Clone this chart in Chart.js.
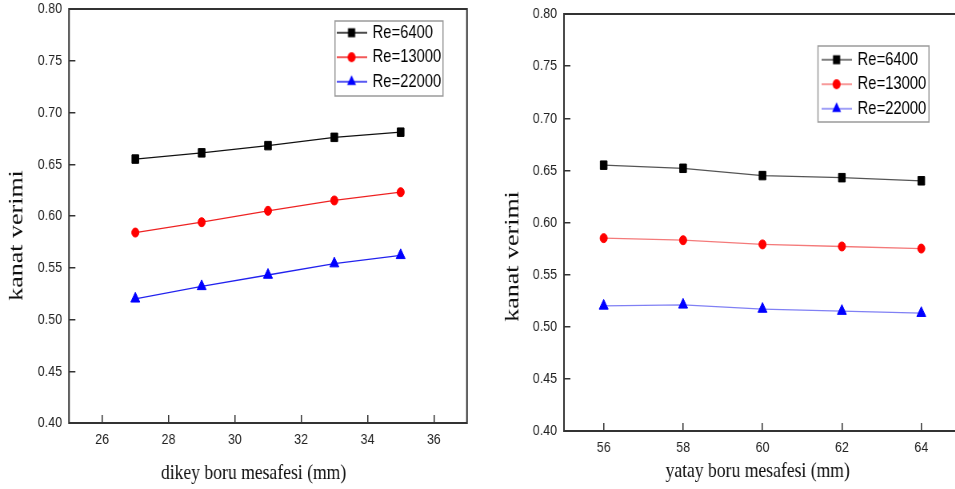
<!DOCTYPE html>
<html>
<head>
<meta charset="utf-8">
<script src="https://cdn.jsdelivr.net/npm/chart.js@4.4.1/dist/chart.umd.min.js"></script>
<style>
    html, body { margin: 0; padding: 0; background: #fff; overflow: hidden; width: 955px; height: 489px; }
    /* the source figure is squeezed sideways, so the canvases are too */
    canvas { position: absolute; top: 0; transform: scaleX(0.8); transform-origin: 0 0; }
    #chart-dikey { left: 0; }
    #chart-yatay { left: 480px; }
</style>
</head>
<body>
<canvas id="chart-dikey" width="600" height="489"></canvas>
<canvas id="chart-yatay" width="612" height="489"></canvas>
<script>
// Data
const seriesNames = ['Re=6400', 'Re=13000', 'Re=22000'];

const dikeyMesafe = [27, 29, 31, 33, 35];
const dikeyRe6400 = [0.655, 0.661, 0.668, 0.676, 0.681];
const dikeyRe13000 = [0.584, 0.594, 0.605, 0.615, 0.623];
const dikeyRe22000 = [0.520, 0.532, 0.543, 0.554, 0.562];

const yatayMesafe = [56, 58, 60, 62, 64];
const yatayRe6400 = [0.655, 0.652, 0.645, 0.643, 0.640];
const yatayRe13000 = [0.585, 0.583, 0.579, 0.577, 0.575];
const yatayRe22000 = [0.520, 0.521, 0.517, 0.515, 0.513];

const yTickValues = [0.40, 0.45, 0.50, 0.55, 0.60, 0.65, 0.70, 0.75, 0.80];
const dikeyTickValues = [26, 28, 30, 32, 34, 36];
const yatayTickValues = [56, 58, 60, 62, 64];

// Styles
const markerStyles = ['rect', 'circle', 'triangle'];
const markerRadius = [6, 4.5, 6.5];
const markerColors = ['#000000', '#ff0000', '#0000ff'];

const sansFont = '"Liberation Sans", Arial, sans-serif';
const serifFont = '"Liberation Serif", "Times New Roman", serif';

/**
 * Small line + marker icon for the legend
 */
function legendIcon(style, color, lineColor) {
    const c = document.createElement('canvas');
    c.width = 38;
    c.height = 16;
    const g = c.getContext('2d');
    g.strokeStyle = lineColor;
    g.lineWidth = 1.3;
    g.beginPath();
    g.moveTo(0, 8);
    g.lineTo(38, 8);
    g.stroke();
    g.fillStyle = color;
    g.beginPath();
    if (style === 'rect') {
        g.rect(14.5, 3.5, 9, 9);
    } else if (style === 'circle') {
        g.arc(19, 8, 5, 0, Math.PI * 2);
    } else {
        g.moveTo(19, 1.5);
        g.lineTo(24.6, 11.2);
        g.lineTo(13.4, 11.2);
        g.closePath();
    }
    g.fill();
    return c;
}

// Frame around the plot, boxed legend moved inside the plot
const framePlugin = {
    id: 'frame',
    afterLayout(chart, args, opts) {
        // pixels are already configured here, so this only slides the axis titles
        const { x, y } = chart.scales;
        x.left += opts.xTitleShift;
        x.right += opts.xTitleShift;
        y.top += opts.yTitleShift;
        y.bottom += opts.yTitleShift;
    },
    beforeDraw(chart, args, opts) {
        chart.legend.left = opts.legendLeft;
        chart.legend.top = opts.legendTop;
    },
    afterDraw(chart, args, opts) {
        const { ctx, chartArea: a } = chart;
        ctx.save();
        ctx.strokeStyle = '#333';
        ctx.lineWidth = 2;
        ctx.strokeRect(a.left, a.top, a.right - a.left, a.bottom - a.top);
        ctx.strokeStyle = '#9a9a9a';
        ctx.lineWidth = 1.5;
        ctx.strokeRect(opts.box.x, opts.box.y, opts.box.w, opts.box.h);
        ctx.restore();
    }
};

function makeChart(canvasId, xs, series, xTicks, xMin, xMax, xTitle, lay) {
    const icons = series.map((s, i) => legendIcon(markerStyles[i], markerColors[i], lay.lineColors[i]));

    return new Chart(document.getElementById(canvasId), {
        type: 'line',
        data: {
            datasets: series.map((ys, i) => ({
                label: seriesNames[i],
                data: xs.map((x, j) => ({ x: x, y: ys[j] })),
                borderColor: lay.lineColors[i],
                borderWidth: 1.3,
                tension: 0,
                pointStyle: markerStyles[i],
                pointRadius: markerRadius[i],
                pointBackgroundColor: markerColors[i],
                pointBorderColor: markerColors[i],
                pointBorderWidth: 1
            }))
        },
        options: {
            responsive: false,
            animation: false,
            devicePixelRatio: 1,
            layout: { padding: { top: lay.padTop, right: lay.padRight, left: 0, bottom: 0 } },
            plugins: {
                tooltip: { enabled: false },
                legend: {
                    position: 'chartArea',
                    align: 'start',
                    labels: {
                        usePointStyle: true,
                        pointStyleWidth: 34,
                        padding: 6,
                        color: '#111',
                        font: { family: sansFont, size: 18.5 },
                        generateLabels: (chart) => chart.data.datasets.map((ds, i) => ({
                            text: ds.label,
                            datasetIndex: i,
                            pointStyle: icons[i],
                            fillStyle: 'transparent',
                            strokeStyle: 'transparent',
                            lineWidth: 0,
                            hidden: false
                        }))
                    }
                },
                frame: {
                    legendLeft: lay.legendLeft,
                    legendTop: lay.legendTop,
                    box: lay.box,
                    xTitleShift: lay.xTitleShift,
                    yTitleShift: lay.yTitleShift
                }
            },
            scales: {
                x: {
                    type: 'linear',
                    min: xMin,
                    max: xMax,
                    afterBuildTicks: (s) => { s.ticks = xTicks.map(v => ({ value: v })); },
                    afterFit: (s) => {
                        s.height = lay.axisHeight;
                        s.paddingLeft = 0;
                        s.paddingRight = 0;
                    },
                    grid: { drawOnChartArea: false, tickLength: -8, color: '#333', lineWidth: 1.5 },
                    border: { display: false },
                    ticks: {
                        padding: 15,
                        color: '#222',
                        autoSkip: false,
                        maxRotation: 0,
                        font: { family: sansFont, size: 15.5 }
                    },
                    title: {
                        display: true,
                        text: xTitle,
                        color: '#111',
                        font: { family: serifFont, size: 22 },
                        padding: { top: 0, bottom: lay.xTitlePad }
                    }
                },
                y: {
                    min: 0.4,
                    max: 0.8,
                    afterBuildTicks: (s) => { s.ticks = yTickValues.map(v => ({ value: v })); },
                    afterFit: (s) => {
                        s.width = lay.axisWidth;
                        s.paddingTop = 0;
                        s.paddingBottom = 0;
                    },
                    grid: { drawOnChartArea: false, tickLength: -8, color: '#333', lineWidth: 1.5 },
                    border: { display: false },
                    ticks: {
                        padding: 16.75,
                        color: '#222',
                        font: { family: sansFont, size: 15.5 },
                        callback: (v) => v.toFixed(2)
                    },
                    title: {
                        display: true,
                        text: 'kanat verimi',
                        color: '#111',
                        font: { family: serifFont, size: 26 },
                        padding: { top: lay.yTitlePad, bottom: 0 }
                    }
                }
            }
        },
        plugins: [framePlugin]
    });
}

makeChart('chart-dikey', dikeyMesafe, [dikeyRe6400, dikeyRe13000, dikeyRe22000],
    dikeyTickValues, 25, 37, 'dikey boru mesafesi (mm)', {
        padTop: 9, padRight: 16.25, axisWidth: 86.25, axisHeight: 66,
        xTitlePad: 3, yTitlePad: 5.6,
        xTitleShift: -18, yTitleShift: 19.5,
        legendLeft: 416.5, legendTop: 17.5,
        box: { x: 418.75, y: 21, w: 135, h: 75 },
        lineColors: ['#111111', '#ee2222', '#2222ee']
    });

makeChart('chart-yatay', yatayMesafe, [yatayRe6400, yatayRe13000, yatayRe22000],
    yatayTickValues, 55, 65, 'yatay boru mesafesi (mm)', {
        padTop: 14, padRight: 10.75, axisWidth: 105, axisHeight: 58,
        xTitlePad: 5, yTitlePad: 25.6,
        xTitleShift: -6, yTitleShift: 34,
        legendLeft: 422.75, legendTop: 44.5,
        box: { x: 422.5, y: 46, w: 138.75, h: 76 },
        lineColors: ['#555555', '#f47a7a', '#8080f4']
    });
</script>
</body>
</html>
